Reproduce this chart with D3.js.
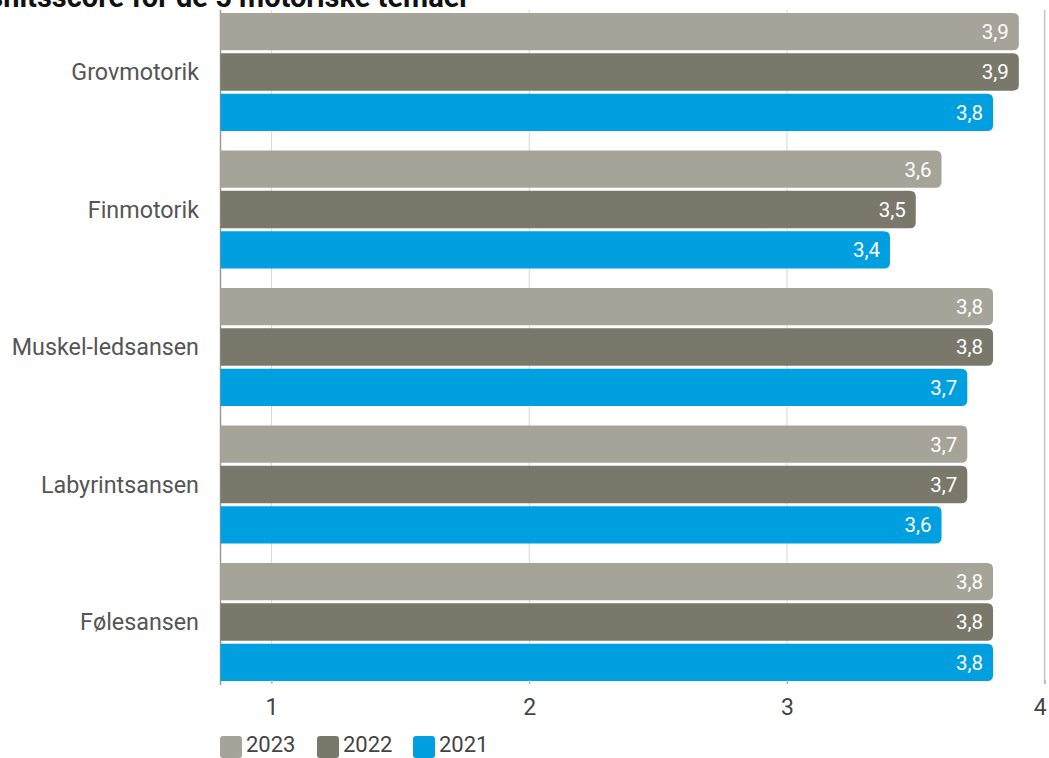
<!DOCTYPE html>
<html>
<head>
<meta charset="utf-8">
<script src="https://cdn.jsdelivr.net/npm/d3@7"></script>
<style>
  html, body { margin: 0; padding: 0; background: #fff; }
  svg { display: block; }
</style>
</head>
<body>
<svg id="chart" width="1049" height="758"></svg>
<script>
const title = "Gennemsnitsscore for de 5 motoriske temaer";
const categories = ["Grovmotorik", "Finmotorik", "Muskel-ledsansen", "Labyrintsansen", "Følesansen"];
const seriesNames = ["2023", "2022", "2021"];
const values2023 = [3.9, 3.6, 3.8, 3.7, 3.8];
const values2022 = [3.9, 3.5, 3.8, 3.7, 3.8];
const values2021 = [3.8, 3.4, 3.7, 3.6, 3.8];
const tickValues = [1, 2, 3, 4];
const colors = ["#a6a398", "#79786b", "#009fe0"];

const seriesValues = [values2023, values2022, values2021];
const svg = d3.select("#chart");

const x = d3.scaleLinear().domain([0.8, 4]).range([220, 1044.6]);
const y0 = d3.scaleBand().domain(categories).range([13, 681]).paddingInner(0.142).paddingOuter(0);
const y1 = d3.scaleBand().domain(seriesNames).range([0, y0.bandwidth()]).paddingInner(0.075).paddingOuter(0);

// gridlines
svg.append("g").selectAll("line").data(tickValues).join("line")
  .attr("x1", d => x(d)).attr("x2", d => x(d))
  .attr("y1", 10).attr("y2", 684)
  .attr("stroke", d => d === 4 ? "#c4c4c4" : "#d8d8d8").attr("stroke-width", d => d === 4 ? 1.5 : 1);

// left axis line
svg.append("line").attr("x1", 220.5).attr("x2", 220.5).attr("y1", 10).attr("y2", 685)
  .attr("stroke", "#9a9a9a").attr("stroke-width", 1.5);

// rounded-right bar path
function barPath(x0, x1, yTop, h, r) {
  r = Math.min(r, (x1 - x0), h / 2);
  return `M${x0},${yTop}H${x1 - r}Q${x1},${yTop} ${x1},${yTop + r}V${yTop + h - r}Q${x1},${yTop + h} ${x1 - r},${yTop + h}H${x0}Z`;
}

const rows = [];
categories.forEach((c, i) => {
  seriesNames.forEach((s, j) => {
    rows.push({ cat: c, ser: s, j, v: seriesValues[j][i] });
  });
});

const bars = svg.append("g");
bars.selectAll("path").data(rows).join("path")
  .attr("d", d => barPath(x(0.8) + 0.5, x(d.v), y0(d.cat) + y1(d.ser), y1.bandwidth(), 6))
  .attr("fill", d => colors[d.j]);

bars.selectAll("text").data(rows).join("text")
  .attr("x", d => x(d.v) - 10)
  .attr("y", d => y0(d.cat) + y1(d.ser) + y1.bandwidth() / 2)
  .attr("dy", "0.36em")
  .attr("text-anchor", "end")
  .attr("font-family", "Roboto, 'Liberation Sans', sans-serif")
  .attr("font-size", 20.5)
  .attr("fill", "#fff")
  .text(d => d3.format(".1f")(d.v).replace(".", ","));

// category labels
svg.append("g").selectAll("text").data(categories).join("text")
  .attr("x", 199)
  .attr("y", d => y0(d) + y0.bandwidth() / 2)
  .attr("dy", "0.36em")
  .attr("text-anchor", "end")
  .attr("font-family", "Roboto, 'Liberation Sans', sans-serif")
  .attr("font-size", 23.3)
  .attr("fill", "#555")
  .text(d => d);

// x axis tick labels
const xAxis = d3.axisBottom(x).tickValues(tickValues).tickSize(4).tickFormat(d3.format("d"));
const gx = svg.append("g").attr("transform", "translate(0,680)").call(xAxis);
gx.select(".domain").remove();
gx.selectAll(".tick line").attr("stroke", "#aaa");
gx.selectAll(".tick text")
  .attr("y", 19).attr("dy", "0.71em")
  .attr("x", d => d === 4 ? -5 : 0)
  .attr("font-family", "Roboto, sans-serif")
  .attr("font-size", 23).attr("fill", "#444");

// legend
const legend = svg.append("g");
const legendX = [220, 317, 413];
seriesNames.forEach((s, i) => {
  legend.append("rect").attr("x", legendX[i]).attr("y", 736).attr("width", 22).attr("height", 22)
    .attr("rx", 3).attr("fill", colors[i]);
  legend.append("text").attr("x", legendX[i] + 26).attr("y", 752)
    .attr("font-family", "Roboto, sans-serif")
    .attr("font-size", 22).attr("fill", "#444").text(s);
});

// title (partly cut off at top/left as in reference)
svg.append("text").attr("x", 470).attr("y", 7)
  .attr("text-anchor", "end")
  .attr("font-family", "Roboto, 'Liberation Sans', sans-serif")
  .attr("font-weight", 700).attr("font-size", 29).attr("fill", "#111")
  .text(title);
</script>
</body>
</html>
